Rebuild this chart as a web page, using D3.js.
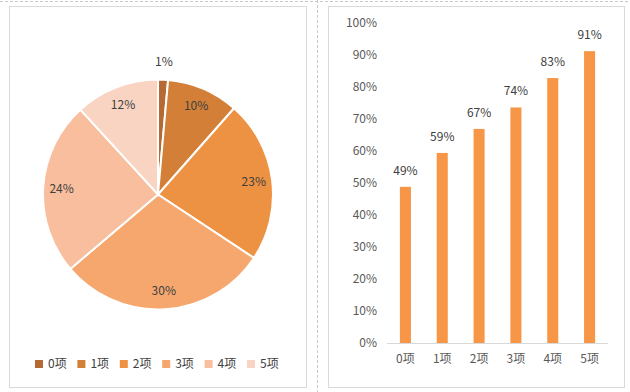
<!DOCTYPE html>
<html>
<head>
<meta charset="utf-8">
<script src="https://cdn.jsdelivr.net/npm/d3@7"></script>
<style>
  body { margin: 0; background: #fff; }
  text { font-family: "Noto Sans CJK SC", "Noto Sans", sans-serif; fill: #404040; }
</style>
</head>
<body>
<div class="chartHolder"></div>
<script>
// data
const categories = ['0项', '1项', '2项', '3项', '4项', '5项']
const pieShares = [0.014, 0.101, 0.228, 0.295, 0.244, 0.118]
const barRates = [0.488, 0.594, 0.669, 0.736, 0.828, 0.912]
const yTicks = [0, 0.1, 0.2, 0.3, 0.4, 0.5, 0.6, 0.7, 0.8, 0.9, 1]
const pieColors = ['#b46a30', '#d37f38', '#ed9142', '#f6a76e', '#f8be9e', '#f9d4c2']
const barColor = '#f79646'

const W = 630, H = 392
const svg = d3.select('.chartHolder').append('svg')
  .attr('width', W)
  .attr('height', H)

// dashed sheet lines and chart frames
svg.append('line').attr('x1', 0).attr('x2', W).attr('y1', 1.5).attr('y2', 1.5)
  .attr('stroke', '#c8c8c8').attr('stroke-dasharray', '3,2')
svg.append('line').attr('x1', 317.5).attr('x2', 317.5).attr('y1', 0).attr('y2', H)
  .attr('stroke', '#c8c8c8').attr('stroke-dasharray', '3,2')
svg.append('rect').attr('x', 9.5).attr('y', 6.5).attr('width', 297).attr('height', 381)
  .attr('fill', '#fff').attr('stroke', '#d9d9d9')
svg.append('rect').attr('x', 328.5).attr('y', 6.5).attr('width', 296).attr('height', 381)
  .attr('fill', '#fff').attr('stroke', '#d9d9d9')

// ---- pie ----
const cx = 158, cy = 194.5, r = 115
const pie = d3.pie().sort(null).value(d => d)
const arc = d3.arc().innerRadius(0).outerRadius(r)
const arcs = pie(pieShares)
const pieG = svg.append('g').attr('transform', `translate(${cx},${cy})`)

pieG.selectAll('path')
  .data(arcs)
  .enter()
  .append('path')
  .attr('d', arc)
  .attr('fill', (d, i) => pieColors[i])
  .attr('stroke', '#fff')
  .attr('stroke-width', 2)

const pct = d3.format('.0%')
pieG.selectAll('text.lbl')
  .data(arcs)
  .enter()
  .append('text')
  .attr('class', 'lbl')
  .attr('text-anchor', 'middle')
  .attr('dy', '0.35em')
  .style('font-size', '12px')
  .attr('transform', function(d) {
    var a = (d.startAngle + d.endAngle) / 2
    var rr = d.data < 0.03 ? r + 18 : r * 0.84
    return `translate(${Math.sin(a) * rr},${-Math.cos(a) * rr})`
  })
  .text(d => pct(d.data))

// legend
const legend = svg.append('g').attr('transform', 'translate(35,364)')
const item = legend.selectAll('g')
  .data(categories)
  .enter()
  .append('g')
  .attr('transform', (d, i) => `translate(${i * 42.4},0)`)
item.append('rect')
  .attr('x', 0).attr('y', -4).attr('width', 8).attr('height', 8)
  .attr('fill', (d, i) => pieColors[i])
item.append('text')
  .attr('x', 13).attr('dy', '0.35em')
  .style('font-size', '12px')
  .text(d => d)

// ---- bar chart ----
const x = d3.scaleBand()
  .domain(categories)
  .range([387, 608])
  .paddingInner(0.7)
  .paddingOuter(0.35)
const y = d3.scaleLinear().domain([0, 1]).range([343, 23])

const yAxis = d3.axisLeft(y).tickValues(yTicks).tickFormat(d3.format('.0%')).tickSize(0).tickPadding(4)
const yG = svg.append('g').attr('transform', 'translate(381,0)').call(yAxis)
yG.select('.domain').remove()
yG.selectAll('text').style('font-size', '12px').attr('fill', '#595959').style('fill', '#595959')

svg.selectAll('rect.bar')
  .data(barRates)
  .enter()
  .append('rect')
  .attr('class', 'bar')
  .attr('x', (d, i) => x(categories[i]))
  .attr('y', d => y(d))
  .attr('width', x.bandwidth())
  .attr('height', d => y(0) - y(d))
  .attr('fill', barColor)

svg.selectAll('text.val')
  .data(barRates)
  .enter()
  .append('text')
  .attr('class', 'val')
  .attr('text-anchor', 'middle')
  .style('font-size', '12px')
  .attr('x', (d, i) => x(categories[i]) + x.bandwidth() / 2)
  .attr('y', d => y(d) - 12)
  .text(d => pct(d))

const xAxis = d3.axisBottom(x).tickSize(0).tickPadding(11)
const xG = svg.append('g').attr('transform', 'translate(0,343)').call(xAxis)
xG.select('.domain').attr('stroke', '#d9d9d9').attr('d', 'M387,0.5H608')
xG.selectAll('text').style('font-size', '12px').style('fill', '#595959')
</script>
</body>
</html>
